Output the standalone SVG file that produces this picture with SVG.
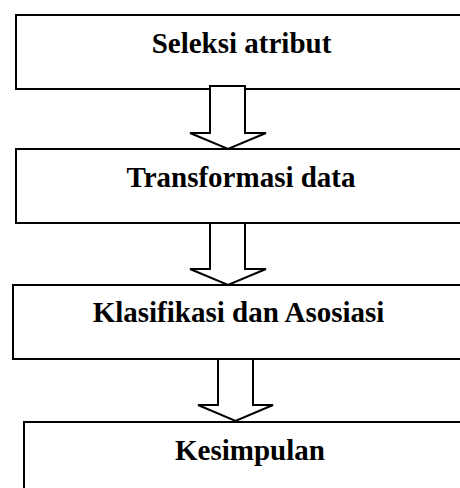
<svg xmlns="http://www.w3.org/2000/svg" width="460" height="488" viewBox="0 0 460 488">
<style>
.box{fill:#fff;stroke:#000;stroke-width:2}
.arr{fill:#fff;stroke:#000;stroke-width:2;stroke-linejoin:miter}
.lbl{font-family:"Liberation Serif","Times New Roman",serif;font-weight:bold;font-size:29px;fill:#000;text-anchor:middle}
</style>
<rect width="460" height="488" fill="#fff"/>
<g id="node-seleksi">
<rect class="box" x="16" y="15" width="460" height="74"/>
<text class="lbl" x="241.5" y="53">Seleksi atribut</text>
</g>
<g id="node-transformasi">
<rect class="box" x="16" y="149" width="460" height="74"/>
<text class="lbl" x="241" y="187">Transformasi data</text>
</g>
<g id="node-klasifikasi">
<rect class="box" x="13" y="285" width="460" height="74"/>
<text class="lbl" x="238.5" y="322">Klasifikasi dan Asosiasi</text>
</g>
<g id="node-kesimpulan">
<rect class="box" x="24" y="422" width="460" height="80"/>
<text class="lbl" x="250" y="460">Kesimpulan</text>
</g>
<g id="connectors">
<polygon class="arr" points="210,86 245,86 245,133 266,133 228,149 190,133 210,133"/>
<polygon class="arr" points="210,223 245,223 245,269 266,269 228,285 190,269 210,269"/>
<polygon class="arr" points="218,359 253,359 253,405 273,405 235.5,421 198,405 218,405"/>
</g>
</svg>
